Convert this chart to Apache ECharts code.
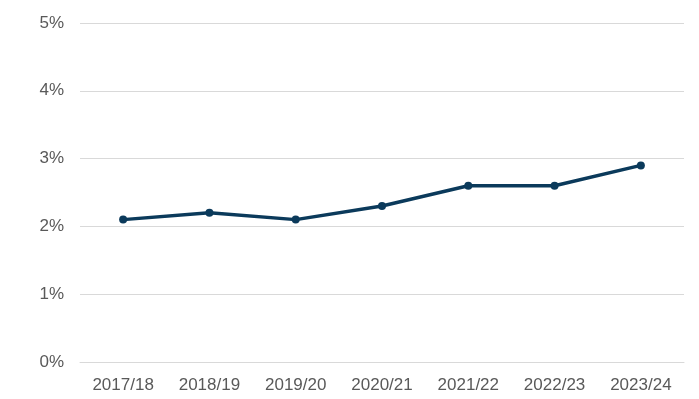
<!DOCTYPE html>
<html>
<head>
<meta charset="utf-8">
<script src="https://cdn.jsdelivr.net/npm/echarts@6/dist/echarts.min.js"></script>
<style>
  html, body { margin: 0; padding: 0; background: #fff; }
  #chart { width: 699px; height: 399px; }
</style>
</head>
<body>
<div id="chart"></div>
<script>
// 年度
const years = ["2017/18", "2018/19", "2019/20", "2020/21", "2021/22", "2022/23", "2023/24"];
// 百分比数值
const rates = [2.1, 2.2, 2.1, 2.3, 2.6, 2.6, 2.9];
// 纵轴刻度
const yTicks = [0, 1, 2, 3, 4, 5];

const chart = echarts.init(document.getElementById("chart"), null, { renderer: "canvas" });

const option = {
  animation: false,
  grid: {
    left: 80,
    right: 15,
    top: 23,
    bottom: 37,
  },
  xAxis: {
    type: "category",
    data: years,
    boundaryGap: true,
    axisLine: { lineStyle: { color: "#d9d9d9", width: 1 } },
    axisTick: { show: false },
    axisLabel: {
      color: "#595959",
      fontSize: 17,
      fontFamily: "Liberation Sans, Arial, sans-serif",
      margin: 15,
      interval: 0,
    },
  },
  yAxis: {
    type: "value",
    min: yTicks[0],
    max: yTicks[yTicks.length - 1],
    interval: 1,
    axisLine: { show: false },
    axisTick: { show: false },
    splitLine: { lineStyle: { color: "#d9d9d9", width: 1 } },
    axisLabel: {
      color: "#595959",
      fontSize: 17,
      fontFamily: "Liberation Sans, Arial, sans-serif",
      margin: 16,
      formatter: (v) => v + "%",
    },
  },
  series: [
    {
      type: "line",
      data: rates,
      smooth: false,
      symbol: "circle",
      symbolSize: 8,
      lineStyle: { color: "#0b3a5b", width: 3.5 },
      itemStyle: { color: "#0b3a5b" },
    },
  ],
};

chart.setOption(option);
</script>
</body>
</html>
